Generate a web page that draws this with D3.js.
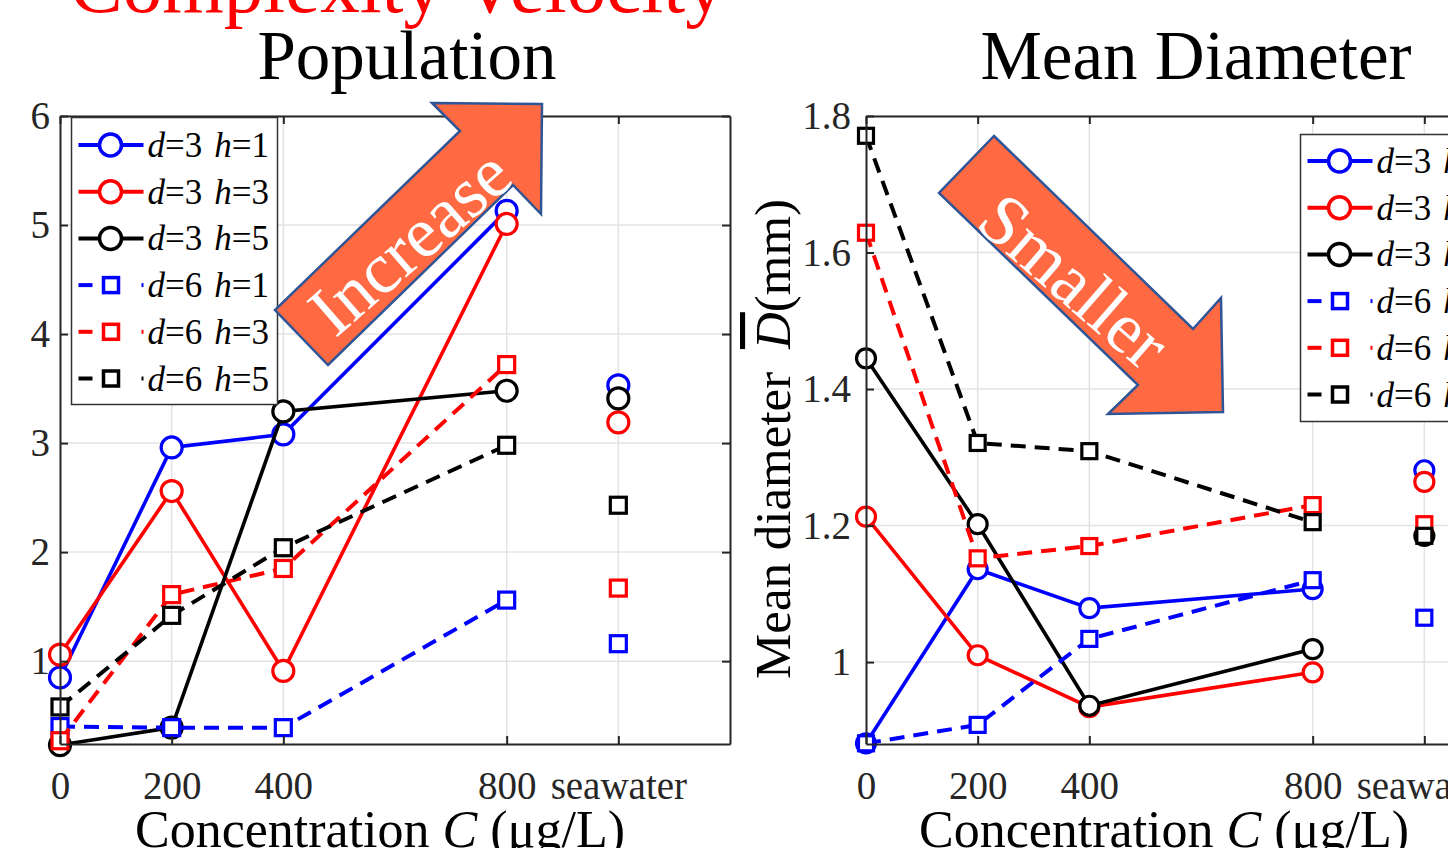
<!DOCTYPE html>
<html>
<head>
<meta charset="utf-8">
<script src="https://cdn.jsdelivr.net/npm/d3@7/dist/d3.min.js"></script>
<style>
  body { margin: 0; background: #fff; }
  svg { display: block; font-family: "Liberation Serif", "Times New Roman", serif; }
</style>
</head>
<body>
<svg id="chart"></svg>
<script>
//Data
  //concentrations in ug/L, seawater gets its own slot on the axis
const concentrations = [0, 200, 400, 800];
const seawaterSlot = 1000;
const xTickValues = [0, 200, 400, 800, 1000];
const xTickLabels = ["0", "200", "400", "800", "seawater"];

const seriesD = [3, 3, 3, 6, 6, 6];
const seriesH = [1, 3, 5, 1, 3, 5];
const seriesColors = ["#0000ff", "#ff0000", "#000000", "#0000ff", "#ff0000", "#000000"];

  //Population
const popD3H1 = [0.85, 2.96, 3.08, 5.13];
const popD3H3 = [1.06, 2.56, 0.91, 5.01];
const popD3H5 = [0.23, 0.39, 3.29, 3.48];
const popD6H1 = [0.40, 0.39, 0.39, 1.56];
const popD6H3 = [0.27, 1.61, 1.85, 3.72];
const popD6H5 = [0.58, 1.42, 2.04, 2.98];
const popSeawater = [3.53, 3.19, 3.41, 1.16, 1.67, 2.43];
const popYTicks = [1, 2, 3, 4, 5, 6];

  //Mean diameter (mm)
const diaD3H1 = [0.881, 1.136, 1.079, 1.107];
const diaD3H3 = [1.213, 1.010, 0.934, 0.985];
const diaD3H5 = [1.445, 1.202, 0.936, 1.019];
const diaD6H1 = [0.881, 0.908, 1.034, 1.120];
const diaD6H3 = [1.629, 1.152, 1.170, 1.230];
const diaD6H5 = [1.771, 1.321, 1.309, 1.205];
const diaSeawater = [1.281, 1.264, 1.185, 1.065, 1.202, 1.185];
const diaYTicks = [1, 1.2, 1.4, 1.6, 1.8];

const w = 1448;
const h = 848;
const plotTop = 116;
const plotBottom = 744;
const axisColor = "#262626";
const gridColor = "#e3e3e3";

const svg = d3.select("#chart").attr("width", w).attr("height", h);

//Red heading cut at the top
svg.append("text")
   .attr("x", 70)
   .attr("y", 12)
   .attr("font-size", 79)
   .attr("fill", "#ff0000")
   .text("Complexity Velocity");

function seriesLabel(sel, i) {
  sel.append("tspan").attr("font-style", "italic").text("d");
  sel.append("tspan").text("=" + seriesD[i]);
  sel.append("tspan").attr("dx", 12).attr("font-style", "italic").text("h");
  sel.append("tspan").text("=" + seriesH[i]);
}

function drawPanel(cfg) {
  const x = d3.scaleLinear().domain([0, 1200]).range(cfg.xRange);
  const y = d3.scaleLinear().domain(cfg.yDomain).range([plotBottom, plotTop]);
  const g = svg.append("g");

  //Grid
  g.append("g").selectAll("line")
   .data(xTickValues.slice(1))
   .join("line")
   .attr("x1", d => x(d)).attr("x2", d => x(d))
   .attr("y1", plotBottom).attr("y2", plotTop)
   .attr("stroke", gridColor).attr("stroke-width", 1.5);
  g.append("g").selectAll("line")
   .data(cfg.yTicks)
   .join("line")
   .attr("x1", cfg.xRange[0]).attr("x2", cfg.xRange[1])
   .attr("y1", d => y(d)).attr("y2", d => y(d))
   .attr("stroke", gridColor).attr("stroke-width", 1.5);

  //Series
  const line = d3.line().x((d, i) => x(concentrations[i])).y(d => y(d));
  cfg.series.forEach((vals, s) => {
    const dashed = seriesD[s] === 6;
    const sg = g.append("g");
    sg.append("path")
      .attr("d", line(vals))
      .attr("fill", "none")
      .attr("stroke", seriesColors[s])
      .attr("stroke-width", dashed ? 4 : 3.6)
      .attr("stroke-dasharray", dashed ? "15,9" : null);
    const pts = vals.map((v, i) => [concentrations[i], v]).concat([[seawaterSlot, cfg.seawater[s]]]);
    if (dashed) {
      sg.selectAll("rect").data(pts).join("rect")
        .attr("x", d => x(d[0]) - cfg.sq / 2)
        .attr("y", d => y(d[1]) - cfg.sq / 2)
        .attr("width", cfg.sq).attr("height", cfg.sq)
        .attr("fill", "#fff").attr("stroke", seriesColors[s]).attr("stroke-width", 3.2);
    } else {
      sg.selectAll("circle").data(pts).join("circle")
        .attr("cx", d => x(d[0]))
        .attr("cy", d => y(d[1]))
        .attr("r", cfg.r)
        .attr("fill", "#fff").attr("stroke", seriesColors[s]).attr("stroke-width", 3.2);
    }
  });

  //Axes (box with inward ticks)
  const xAxis = d3.axisBottom(x).tickValues(xTickValues)
                  .tickFormat((d, i) => xTickLabels[i])
                  .tickSizeInner(-8).tickSizeOuter(0).tickPadding(27);
  const yAxis = d3.axisLeft(y).tickValues(cfg.yTicks).tickFormat(cfg.fmt)
                  .tickSizeInner(-8).tickSizeOuter(0).tickPadding(cfg.yPad);
  const ax = [
    g.append("g").attr("transform", "translate(0," + plotBottom + ")").call(xAxis),
    g.append("g").attr("transform", "translate(" + cfg.xRange[0] + ",0)").call(yAxis),
    g.append("g").attr("transform", "translate(0," + plotTop + ")")
     .call(d3.axisTop(x).tickValues(xTickValues).tickFormat("").tickSizeInner(-8).tickSizeOuter(0)),
    g.append("g").attr("transform", "translate(" + cfg.xRange[1] + ",0)")
     .call(d3.axisRight(y).tickValues(cfg.yTicks).tickFormat("").tickSizeInner(-8).tickSizeOuter(0))
  ];
  ax.forEach(a => {
    a.select(".domain").attr("stroke", axisColor).attr("stroke-width", 2);
    a.selectAll(".tick line").attr("stroke", axisColor).attr("stroke-width", 2);
    a.selectAll(".tick text").attr("fill", axisColor).attr("font-size", 39)
     .attr("font-family", "Liberation Serif, Times New Roman, serif");
  });

  //Title
  svg.append("text")
     .attr("x", cfg.titleX).attr("y", 79)
     .attr("text-anchor", "middle")
     .attr("font-size", 69)
     .text(cfg.title);

  //X label
  const xl = svg.append("text")
     .attr("x", cfg.xLabelX).attr("y", 847)
     .attr("text-anchor", "middle")
     .attr("font-size", 52);
  xl.append("tspan").text("Concentration ");
  xl.append("tspan").attr("font-style", "italic").text("C");
  xl.append("tspan").text(" (\u03bcg/L)");

  //Legend
  const L = cfg.legend;
  const lg = svg.append("g");
  lg.append("rect")
    .attr("x", L.x).attr("y", L.y).attr("width", 206).attr("height", 287)
    .attr("fill", "#fff").attr("stroke", "#333").attr("stroke-width", 1.5);
  seriesD.forEach((dv, i) => {
    const ry = L.row0 + i * 46.7;
    const col = seriesColors[i];
    if (dv === 3) {
      lg.append("line").attr("x1", L.x + 7).attr("x2", L.x + 72).attr("y1", ry).attr("y2", ry)
        .attr("stroke", col).attr("stroke-width", 4);
      lg.append("circle").attr("cx", L.x + 39).attr("cy", ry).attr("r", 11)
        .attr("fill", "#fff").attr("stroke", col).attr("stroke-width", 3.5);
    } else {
      lg.append("line").attr("x1", L.x + 7).attr("x2", L.x + 21).attr("y1", ry).attr("y2", ry)
        .attr("stroke", col).attr("stroke-width", 4);
      lg.append("line").attr("x1", L.x + 70).attr("x2", L.x + 72).attr("y1", ry).attr("y2", ry)
        .attr("stroke", col).attr("stroke-width", 4);
      lg.append("rect").attr("x", L.x + 32).attr("y", ry - 7.5).attr("width", 15).attr("height", 15)
        .attr("fill", "#fff").attr("stroke", col).attr("stroke-width", 3.5);
    }
    lg.append("text").attr("x", L.x + 76).attr("y", ry + 12)
      .attr("font-size", 35).call(seriesLabel, i);
  });
}

drawPanel({
  xRange: [60, 730],
  yDomain: [0.24, 6],
  yTicks: popYTicks,
  fmt: d3.format("d"),
  yPad: 10,
  r: 10.5,
  sq: 16,
  series: [popD3H1, popD3H3, popD3H5, popD6H1, popD6H3, popD6H5],
  seawater: popSeawater,
  title: "Population",
  titleX: 407,
  xLabelX: 380,
  legend: {x: 71.5, y: 117.5, row0: 145}
});

drawPanel({
  xRange: [866, 1536],
  yDomain: [0.88, 1.8],
  yTicks: diaYTicks,
  fmt: d => d === 1 ? "1" : d3.format(".1f")(d),
  yPad: 15,
  r: 9.5,
  sq: 15,
  series: [diaD3H1, diaD3H3, diaD3H5, diaD6H1, diaD6H3, diaD6H5],
  seawater: diaSeawater,
  title: "Mean Diameter",
  titleX: 1196,
  xLabelX: 1164,
  legend: {x: 1300.5, y: 134.5, row0: 161}
});

//Y label of the diameter panel
const yl = svg.append("text")
   .attr("transform", "translate(790,439) rotate(-90)")
   .attr("text-anchor", "middle")
   .attr("font-size", 51);
yl.append("tspan").text("Mean diameter ");
yl.append("tspan").attr("dx", 10).attr("font-style", "italic")
  .attr("text-decoration", "overline").text("D");
yl.append("tspan").text("(mm)");

//Annotation arrows
const arrowFill = "#ff6a43";
const arrowStroke = "#2f5597";
const arrows = [
  {pts: [[432,103],[542,104],[541,214],[513,185],[328,365],[275,310],[460,131]],
   text: "Increase", cx: 410, cy: 242, angle: -41},
  {pts: [[994,136],[1193,329],[1221,298],[1223,412],[1108,414],[1138,385],[939,193]],
   text: "Smaller", cx: 1074, cy: 281, angle: 41}
];
arrows.forEach(a => {
  svg.append("polygon")
     .attr("points", a.pts.map(p => p.join(",")).join(" "))
     .attr("fill", arrowFill)
     .attr("stroke", arrowStroke)
     .attr("stroke-width", 2.5)
     .attr("stroke-linejoin", "miter");
  svg.append("text")
     .attr("transform", "translate(" + a.cx + "," + a.cy + ") rotate(" + a.angle + ")")
     .attr("text-anchor", "middle")
     .attr("dominant-baseline", "central")
     .attr("font-size", 72)
     .attr("fill", "#fff")
     .text(a.text);
});
</script>
</body>
</html>
